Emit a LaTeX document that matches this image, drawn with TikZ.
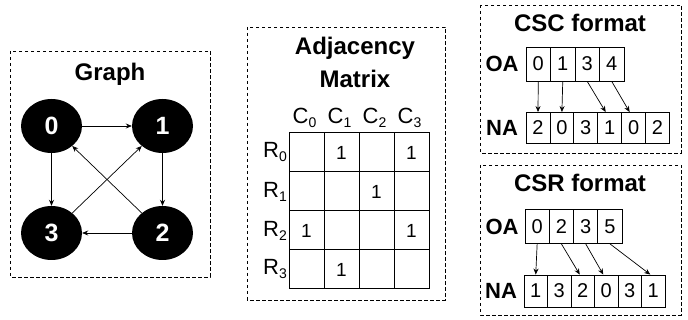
\documentclass[tikz,border=0pt]{standalone}
\usepackage{fontspec}
\setmainfont{Liberation Sans}
\usetikzlibrary{shapes.geometric,arrows.meta}
\newcommand{\mysub}[1]{\raisebox{-4pt}{\fontsize{14}{14}\selectfont #1}}
\begin{document}
\begin{tikzpicture}[x=1pt,y=-1pt,
  box/.style={draw, dash pattern=on 3.5pt off 2.5pt, line width=0.9pt},
  ttl/.style={font=\bfseries\fontsize{24}{33}\selectfont, inner sep=0pt, align=center},
  vtx/.style={ellipse, fill=black, minimum width=61pt, minimum height=54pt, inner sep=0pt, text=white, font=\bfseries\fontsize{25}{25}\selectfont},
  arr/.style={-{Stealth[length=6pt,width=5pt]}, line width=0.7pt},
  mcell/.style={draw, line width=1pt, minimum width=35pt, minimum height=39pt, inner sep=0pt},
  one/.style={font=\fontsize{19}{19}\selectfont, inner sep=0pt},
  lbl/.style={font=\fontsize{22}{22}\selectfont, inner sep=0pt},
  acell/.style={draw, line width=0.9pt, minimum height=34pt, inner sep=0pt, font=\fontsize{20}{20}\selectfont},
  alab/.style={font=\bfseries\fontsize{22}{22}\selectfont, inner sep=0pt}
]
\useasboundingbox (0,0) rectangle (688,320);

% ---------- Graph ----------
\draw[box] (10,51) rectangle (210,277);
\node[ttl] (gt) at (110,74) {Graph};
\node[vtx] (n0) at (51.5,126) {0};
\node[vtx] (n1) at (162.5,126) {1};
\node[vtx] (n2) at (162.5,233) {2};
\node[vtx] (n3) at (51.5,233) {3};
\draw[arr] (n0) -- (n1);
\draw[arr] (n1) -- (n2);
\draw[arr] (n0) -- (n3);
\draw[arr] (n2) -- (n3);
\draw[arr] (n3) -- (n1);
\draw[arr] (n2) -- (n0);

% ---------- Adjacency matrix ----------
\draw[box] (247,27) rectangle (445,300);
\node[ttl] (mt) at (355,62) {Adjacency\\Matrix};
\foreach \c in {0,1,2,3}{
  \node[lbl] (c\c) at ({306.5+35*\c-2},118) {C\mysub{\c}};
}
\foreach \r in {0,1,2,3}{
  \node[lbl, anchor=east] (r\r) at (287,{152.5+39*\r}) {R\mysub{\r}};
  \foreach \c in {0,1,2,3}{
    \node[mcell] (m-\r-\c) at ({306.5+35*\c},{152.5+39*\r}) {};
  }
}
\node[one] (v01) at (m-0-1) {1};
\node[one] (v03) at (m-0-3) {1};
\node[one] (v12) at (m-1-2) {1};
\node[one] (v20) at (m-2-0) {1};
\node[one] (v23) at (m-2-3) {1};
\node[one] (v31) at (m-3-1) {1};

% ---------- CSC ----------
\draw[box] (480,5) rectangle (681,153);
\node[ttl] (csct) at (580,23) {CSC format};
\node[alab] (csco) at (502,64) {OA};
\node[alab] (cscn) at (502,128) {NA};
\foreach \v [count=\i from 0] in {0,1,3,4}{
  \node[acell, minimum width=24.5pt] (co\i) at ({538.25+24.5*\i},64) {\v};
}
\foreach \v [count=\i from 0] in {2,0,3,1,0,2}{
  \node[acell, minimum width=23.9pt, minimum height=31pt] (cn\i) at ({538+23.9*\i},128) {\v};
}
\draw[arr] (co0.south) -- (cn0.north);
\draw[arr] (co1.south) -- (cn1.north);
\draw[arr] (co2.south) -- ([xshift=-4pt]cn3.north);
\draw[arr] (co3.south) -- ([xshift=-4pt]cn4.north);

% ---------- CSR ----------
\draw[box] (480,165) rectangle (681,315);
\node[ttl] (csrt) at (580,183) {CSR format};
\node[alab] (csro) at (502,226.5) {OA};
\node[alab] (csrn) at (501,291) {NA};
\foreach \v [count=\i from 0] in {0,2,3,5}{
  \node[acell, minimum width=24.3pt] (ro\i) at ({537.15+24.3*\i},226.5) {\v};
}
\foreach \v [count=\i from 0] in {1,3,2,0,3,1}{
  \node[acell, minimum width=23.5pt, minimum height=32pt] (rn\i) at ({535.75+23.5*\i},291) {\v};
}
\draw[arr] (ro0.south) -- (rn0.north);
\draw[arr] (ro1.south) -- ([xshift=-3pt]rn2.north);
\draw[arr] (ro2.south) -- ([xshift=-3pt]rn3.north);
\draw[arr] (ro3.south) -- ([xshift=-3pt]rn5.north);
\end{tikzpicture}
\end{document}
